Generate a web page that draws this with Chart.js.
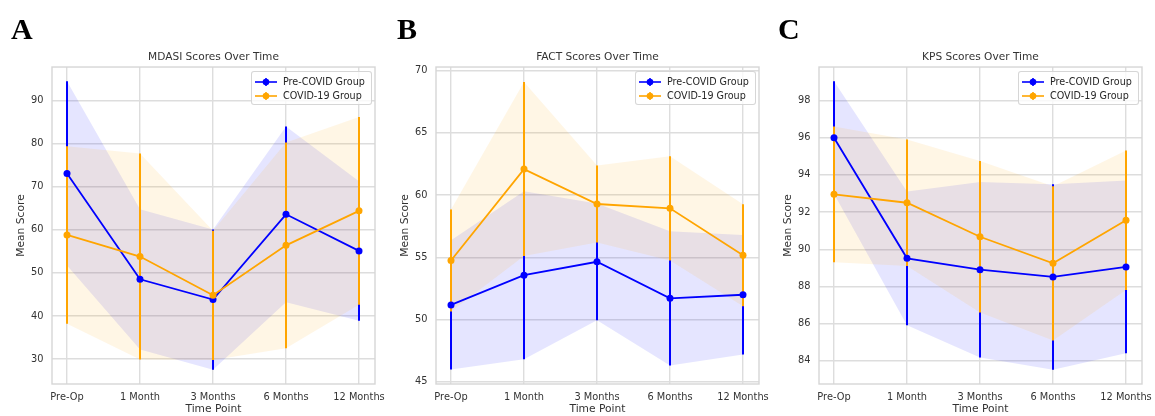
<!DOCTYPE html>
<html>
<head>
<meta charset="utf-8">
<script src="https://cdn.jsdelivr.net/npm/chart.js@4.4.1/dist/chart.umd.min.js"></script>
<style>
  body { margin: 0; background: #fff; width: 1155px; height: 416px; overflow: hidden; position: relative; }
  canvas { position: absolute; top: 40px; }
  .letter { position: absolute; top: 14px; z-index: 5; font: bold 30px "Liberation Serif", "Times New Roman", serif; line-height: 30px; color: #000; }
  .legend { position: absolute; z-index: 4; background: rgba(255,255,255,0.8); border: 1px solid rgba(204,204,204,0.8);
            border-radius: 3px; padding: 3px 6px 1px 3px; font-family: "DejaVu Sans", sans-serif; font-size: 9.6px; color: #262626; }
  .legend .row { height: 14px; line-height: 14px; white-space: nowrap; display: flex; align-items: center; }
  .legend svg { margin-right: 6px; }
</style>
</head>
<body>
<canvas id="chartA" width="395" height="376" style="left:0px"></canvas>
<canvas id="chartB" width="395" height="376" style="left:384px"></canvas>
<canvas id="chartC" width="395" height="376" style="left:767px"></canvas>
<div class="letter" style="left:11px">A</div>
<div class="letter" style="left:397px">B</div>
<div class="letter" style="left:778px">C</div>
<script>
"use strict";

const timePoints = ["Pre-Op", "1 Month", "3 Months", "6 Months", "12 Months"];

// MDASI
const mdasiPreMean = [73.1, 48.5, 43.8, 63.6, 55.1];
const mdasiPreSd = [21.4, 16.3, 16.3, 20.4, 16.2];
const mdasiCovMean = [58.8, 53.8, 44.8, 56.4, 64.4];
const mdasiCovSd = [20.6, 23.9, 15.0, 23.9, 21.8];
const mdasiTicks = [30, 40, 50, 60, 70, 80, 90];

// FACT
const factPreMean = [51.16, 53.55, 54.63, 51.69, 51.98];
const factPreSd = [5.2, 6.75, 4.7, 5.4, 4.8];
const factCovMean = [54.74, 62.09, 59.28, 58.93, 55.16];
const factCovSd = [4.1, 7.0, 3.1, 4.2, 4.1];
const factTicks = [45, 50, 55, 60, 65, 70];

// KPS
const kpsPreMean = [96.0, 89.51, 88.9, 88.51, 89.05];
const kpsPreSd = [3.03, 3.6, 4.72, 4.99, 4.64];
const kpsCovMean = [92.95, 92.5, 90.67, 89.24, 91.56];
const kpsCovSd = [3.65, 3.4, 4.07, 4.15, 3.75];
const kpsTicks = [84, 86, 88, 90, 92, 94, 96, 98];

const groupNames = ["Pre-COVID Group", "COVID-19 Group"];
const blue = "#0000ff";
const orange = "#ffa500";
const textColor = "#333333";
const gridColor = "#dddddd";
const fontFamily = "'DejaVu Sans', sans-serif";

// x range chosen so the five time points land on whole pixels
const xMin = -15 / 73;
const xMax = 4 + 16 / 73;

function points(values) {
    return values.map((v, i) => ({x: i, y: v}));
}

function band(mean, sd, sign) {
    return mean.map((m, i) => ({x: i, y: m + sign * sd[i]}));
}

function errorBars(mean, sd) {
    let out = [];
    for (let i = 0; i < mean.length; i++) {
        out.push({x: i, y: mean[i] - sd[i]});
        out.push({x: i, y: mean[i] + sd[i]});
        out.push({x: i, y: null});
    }
    return out;
}

const framePlugin = {
    id: "frame",
    afterDatasetsDraw(chart) {
        const a = chart.chartArea;
        const ctx = chart.ctx;
        ctx.save();
        ctx.strokeStyle = "#d6d6d6";
        ctx.lineWidth = 1.4;
        ctx.strokeRect(a.left, a.top, a.right - a.left, a.bottom - a.top);
        ctx.restore();
    }
};

function legendIcon(color) {
    return '<svg width="22" height="10"><line x1="0" y1="5" x2="22" y2="5" stroke="' + color + '" stroke-width="1.6"/>' +
        '<line x1="11" y1="1" x2="11" y2="9" stroke="' + color + '" stroke-width="1.6"/>' +
        '<circle cx="11" cy="5" r="3.3" fill="' + color + '"/></svg>';
}

function addLegend(chart, canvasLeft) {
    const box = document.createElement("div");
    box.className = "legend";
    box.innerHTML =
        '<div class="row">' + legendIcon(blue) + groupNames[0] + '</div>' +
        '<div class="row">' + legendIcon(orange) + groupNames[1] + '</div>';
    document.body.appendChild(box);
    const a = chart.chartArea;
    box.style.left = (canvasLeft + a.right - 3 - box.offsetWidth) + "px";
    box.style.top = (40 + a.top + 4) + "px";
}

function makeChart(id, canvasLeft, title, yMin, yMax, yTicks, preMean, preSd, covMean, covSd) {
    const ctx = document.getElementById(id).getContext("2d");
    const chart = new Chart(ctx, {
        type: "line",
        data: {
            datasets: [
                {data: band(preMean, preSd, 1), borderWidth: 0, pointRadius: 0, fill: false, order: 20},
                {data: band(preMean, preSd, -1), borderWidth: 0, pointRadius: 0, fill: "-1",
                    backgroundColor: "rgba(0,0,255,0.1)", order: 20},
                {data: band(covMean, covSd, 1), borderWidth: 0, pointRadius: 0, fill: false, order: 19},
                {data: band(covMean, covSd, -1), borderWidth: 0, pointRadius: 0, fill: "-1",
                    backgroundColor: "rgba(255,165,0,0.1)", order: 19},
                {data: errorBars(preMean, preSd), borderColor: blue, borderWidth: 2, pointRadius: 0,
                    spanGaps: false, fill: false, order: 8},
                {data: errorBars(covMean, covSd), borderColor: orange, borderWidth: 2, pointRadius: 0,
                    spanGaps: false, fill: false, order: 7},
                {label: groupNames[0], data: points(preMean), borderColor: blue, backgroundColor: blue,
                    borderWidth: 1.8, pointRadius: 3.5, pointBorderWidth: 0, fill: false, order: 6},
                {label: groupNames[1], data: points(covMean), borderColor: orange, backgroundColor: orange,
                    borderWidth: 1.8, pointRadius: 3.5, pointBorderWidth: 0, fill: false, order: 5}
            ]
        },
        options: {
            responsive: false,
            animation: false,
            devicePixelRatio: 1,
            layout: {padding: {left: 0, right: 20, top: 0, bottom: 0}},
            plugins: {
                legend: {display: false},
                tooltip: {enabled: false},
                title: {
                    display: true,
                    text: title,
                    fullSize: false,
                    color: textColor,
                    font: {family: fontFamily, size: 10.6, weight: "normal"},
                    padding: {top: 10.9, bottom: 3.4}
                }
            },
            scales: {
                x: {
                    type: "linear",
                    min: xMin,
                    max: xMax,
                    afterBuildTicks: scale => {
                        scale.ticks = timePoints.map((t, i) => ({value: i}));
                    },
                    afterFit: scale => { scale.height = 32; },
                    ticks: {
                        callback: v => timePoints[v],
                        color: textColor,
                        font: {family: fontFamily, size: 9.8},
                        padding: 8,
                        maxRotation: 0,
                        autoSkip: false
                    },
                    grid: {color: gridColor, lineWidth: 1.4, drawTicks: false},
                    border: {display: false},
                    title: {
                        display: true,
                        text: "Time Point",
                        color: textColor,
                        font: {family: fontFamily, size: 10.7},
                        padding: {top: 0, bottom: 0}
                    }
                },
                y: {
                    min: yMin,
                    max: yMax,
                    afterBuildTicks: scale => {
                        scale.ticks = yTicks.map(v => ({value: v}));
                    },
                    afterFit: scale => { scale.width = 52; },
                    ticks: {
                        color: textColor,
                        font: {family: fontFamily, size: 9.8},
                        padding: 8.5
                    },
                    grid: {color: gridColor, lineWidth: 1.4, drawTicks: false},
                    border: {display: false},
                    title: {
                        display: true,
                        text: "Mean Score",
                        color: textColor,
                        font: {family: fontFamily, size: 10.7},
                        padding: {top: 14.5, bottom: 0}
                    }
                }
            }
        },
        plugins: [framePlugin]
    });
    addLegend(chart, canvasLeft);
    return chart;
}

makeChart("chartA", 0, "MDASI Scores Over Time", 24.2, 97.8, mdasiTicks,
    mdasiPreMean, mdasiPreSd, mdasiCovMean, mdasiCovSd);
makeChart("chartB", 384, "FACT Scores Over Time", 44.8, 70.3, factTicks,
    factPreMean, factPreSd, factCovMean, factCovSd);
makeChart("chartC", 767, "KPS Scores Over Time", 82.75, 99.8, kpsTicks,
    kpsPreMean, kpsPreSd, kpsCovMean, kpsCovSd);
</script>
</body>
</html>
